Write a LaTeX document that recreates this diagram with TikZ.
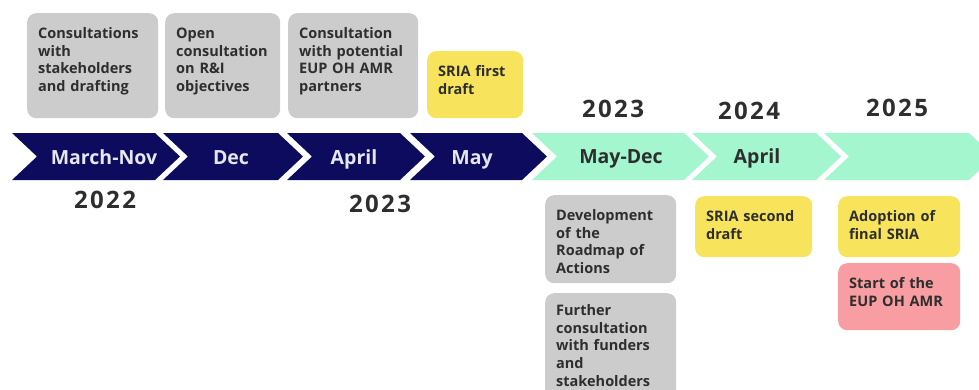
\documentclass[tikz,border=0pt]{standalone}
\usepackage{fontspec}
\setmainfont{Open Sans}
\usetikzlibrary{positioning}
\definecolor{navy}{HTML}{0D0B5E}
\definecolor{mint}{HTML}{A4F6CE}
\definecolor{cardgrey}{HTML}{CCCCCC}
\definecolor{cardyellow}{HTML}{F8E45C}
\definecolor{cardpink}{HTML}{F89EA2}
\definecolor{ink}{HTML}{2E2E2E}
\definecolor{pale}{HTML}{E6E6F0}

\begin{document}
\begin{tikzpicture}[x=1pt, y=-1pt,
  card/.style={anchor=north west, rounded corners=9pt, align=left, inner xsep=11pt,
               inner ysep=0pt, text height=25pt, text=ink,
               font=\bfseries\fontsize{14.5}{17.8}\selectfont},
  grey/.style={card, fill=cardgrey},
  yellow/.style={card, fill=cardyellow},
  pink/.style={card, fill=cardpink},
  month/.style={anchor=base, text=pale, font=\bfseries\fontsize{19.5}{21}\selectfont},
  year/.style={anchor=base, text=ink,
               font=\bfseries\fontsize{24}{26}\selectfont\addfontfeature{LetterSpace=10}}]
  \useasboundingbox (0,0) rectangle (979,389);
  % chevron band
  \foreach \l/\r/\c in {12/155/navy, 163/278/navy, 287/400/navy, 410/522/navy,
                        532/684/mint, 692/816/mint}
    \fill[\c] (\l,133) -- (\r,133) -- (\r+25,156.5) -- (\r,180) -- (\l,180) -- (\l+25,156.5) -- cycle;
  \fill[mint] (824,133) -- (969,133) -- (979,142.4) -- (979,170.6) -- (969,180) -- (824,180)
    -- (849,156.5) -- cycle;
  \node[month] (marnov) at (104,164) {March-Nov};
  \node[month] (dec) at (231,164) {Dec};
  \node[month] (apr) at (354,164) {April};
  \node[month] (may) at (472,164) {May};
  \node[month, text=ink] (maydec) at (621,163) {May-Dec};
  \node[month, text=ink] (aprb) at (757,163) {April};
  % years
  \node[year] (y22) at (105,208) {2022};
  \node[year] (y23) at (380,212) {2023};
  \node[year] (y23b) at (613,117) {2023};
  \node[year] (y24) at (749,119) {2024};
  \node[year] (y25) at (897,116) {2025};
  % cards above
  \node[grey, text width=109pt, text depth=80pt] (consult) at (27,13)
    {Consultations\\ with\\ stakeholders\\ and drafting};
  \node[grey, text width=93pt, text depth=80pt] (open) at (165,13)
    {Open\\ consultation\\ on R\&I\\ objectives};
  \node[grey, text width=108pt, text depth=80pt] (partners) at (288,13)
    {Consultation\\ with potential\\ EUP OH AMR\\ partners};
  \node[yellow, text width=74pt, text depth=42pt] (first) at (427,51)
    {SRIA first\\ draft};
  % cards below
  \node[grey, text width=109pt, text depth=63pt] (roadmap) at (545,195)
    {Development\\ of the\\ Roadmap of\\ Actions};
  \node[grey, text width=109pt, text height=22pt, text depth=88pt] (funders) at (545,293)
    {Further\\ consultation\\ with funders\\ and\\ stakeholders};
  \node[yellow, text width=95pt, text depth=36pt] (second) at (695,196)
    {SRIA second\\ draft};
  \node[yellow, text width=100pt, text depth=36pt] (final) at (838,196)
    {Adoption of\\ final SRIA};
  \node[pink, text width=100pt, text depth=42pt] (start) at (838,263)
    {Start of the\\ EUP OH AMR};
\end{tikzpicture}
\end{document}
